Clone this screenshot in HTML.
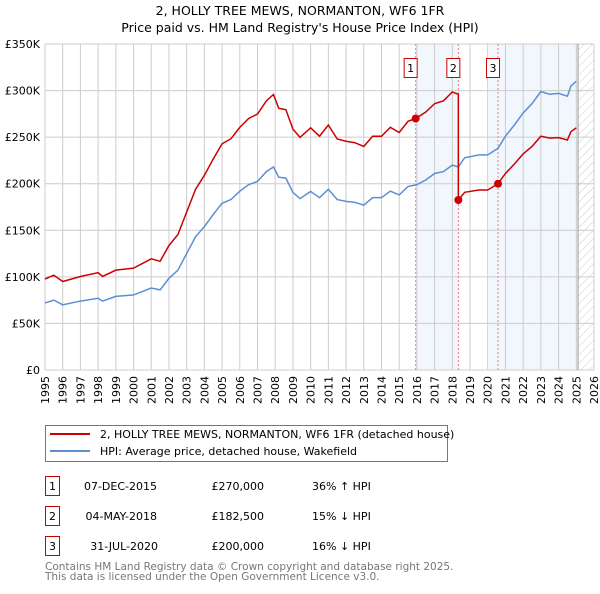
<!DOCTYPE html>
<html><head><meta charset="utf-8"><style>
body{margin:0;background:#fff;font-family:"DejaVu Sans","Liberation Sans",sans-serif;}
svg text{font-family:"DejaVu Sans","Liberation Sans",sans-serif;}
</style></head><body>
<svg id="chart" width="600" height="590" viewBox="0 0 600 590" xmlns="http://www.w3.org/2000/svg">
<defs><pattern id="hatch" width="6" height="6" patternUnits="userSpaceOnUse" patternTransform="rotate(45)"><line x1="0" y1="0" x2="0" y2="6" stroke="#ccc" stroke-width="1"/></pattern></defs>
<text x="300" y="15" font-size="12.5" text-anchor="middle">2, HOLLY TREE MEWS, NORMANTON, WF6 1FR</text>
<text x="300" y="32" font-size="12.5" text-anchor="middle">Price paid vs. HM Land Registry's House Price Index (HPI)</text>
<g id="bg"></g><g id="grid"></g><g id="series"></g><g id="marks"></g>
<rect x="45.5" y="425.5" width="402" height="36" fill="#fff" stroke="#777"/>
<line x1="50" y1="434" x2="90" y2="434" stroke="#cc0000" stroke-width="2"/>
<text x="100" y="438" font-size="11">2, HOLLY TREE MEWS, NORMANTON, WF6 1FR (detached house)</text>
<line x1="50" y1="451" x2="90" y2="451" stroke="#5b8fd4" stroke-width="2"/>
<text x="100" y="455" font-size="11">HPI: Average price, detached house, Wakefield</text>
<g font-size="11">
<rect x="45.5" y="476.5" width="14" height="19" fill="#fff" stroke="#cc0000"/><text x="52.5" y="490" text-anchor="middle">1</text>
<text x="157" y="490" text-anchor="end">07-DEC-2015</text><text x="264" y="490" text-anchor="end">£270,000</text><text x="312" y="490">36% ↑ HPI</text>
<rect x="45.5" y="506.5" width="14" height="19" fill="#fff" stroke="#cc0000"/><text x="52.5" y="520" text-anchor="middle">2</text>
<text x="157" y="520" text-anchor="end">04-MAY-2018</text><text x="264" y="520" text-anchor="end">£182,500</text><text x="312" y="520">15% ↓ HPI</text>
<rect x="45.5" y="536.5" width="14" height="19" fill="#fff" stroke="#cc0000"/><text x="52.5" y="550" text-anchor="middle">3</text>
<text x="158" y="550" text-anchor="end">31-JUL-2020</text><text x="264" y="550" text-anchor="end">£200,000</text><text x="312" y="550">16% ↓ HPI</text>
</g>
<text x="45" y="570" font-size="10.5" fill="#777">Contains HM Land Registry data © Crown copyright and database right 2025.</text>
<text x="45" y="580" font-size="10.5" fill="#777">This data is licensed under the Open Government Licence v3.0.</text>
</svg>
<script>
const yTicks=[0,50,100,150,200,250,300,350];
const yTickLabels=["£0","£50K","£100K","£150K","£200K","£250K","£300K","£350K"];
const xYears=[1995,1996,1997,1998,1999,2000,2001,2002,2003,2004,2005,2006,2007,2008,2009,2010,2011,2012,2013,2014,2015,2016,2017,2018,2019,2020,2021,2022,2023,2024,2025,2026];
const hpiDates=[1995,1995.5,1996,1997,1998,1998.25,1999,2000,2001,2001.5,2002,2002.5,2003,2003.5,2004,2004.5,2005,2005.5,2006,2006.5,2007,2007.5,2007.9,2008.2,2008.6,2009,2009.4,2010,2010.5,2011,2011.5,2012,2012.5,2013,2013.5,2014,2014.5,2015,2015.5,2016,2016.5,2017,2017.5,2018,2018.34,2018.7,2019,2019.5,2020,2020.58,2021,2021.5,2022,2022.5,2023,2023.5,2024,2024.5,2024.7,2025];
const hpiValues=[72,75,70,74,77,74,79,80.6,88,86,98.5,107,125,143,154,167,179,183,192,199,202.5,213,218,207,206,190.6,184,191.7,185,194,183,181,180,177,185,185,192,188,197,199,204,211,213,220,218,228,229,231,231,238,251,263,276,286,299,296,297,294,305,310];
const priceDates=[1995,1995.5,1996,1997,1998,1998.25,1999,2000,2001,2001.5,2002,2002.5,2003,2003.5,2004,2004.5,2005,2005.5,2006,2006.5,2007,2007.5,2007.9,2008.2,2008.6,2009,2009.4,2010,2010.5,2011,2011.5,2012,2012.5,2013,2013.5,2014,2014.5,2015,2015.5,2015.93,2016.5,2017,2017.5,2018,2018.34,2018.34,2018.7,2019,2019.5,2020,2020.58,2021,2021.5,2022,2022.5,2023,2023.5,2024,2024.5,2024.7,2025];
const priceValues=[97.7,101.8,95,100.4,104.5,100.4,107.2,109.4,119.4,116.7,133.7,145.2,169.6,194,209,226.6,242.9,248.3,260.5,270,274.8,289,295.8,280.9,279.5,258.6,249.7,260,251,263,248,245.6,244,240,251,251,260.5,255,267,270,277,286,289,298.5,296,182.5,190.8,191.7,193.3,193.3,200,211,221,232,240,251,249,249.5,247,256,260];
const saleDates=[2015.93,2018.34,2020.58];
const saleValues=[270,182.5,200];
const saleLabels=["1","2","3"];
const NS="http://www.w3.org/2000/svg";
const X0=45,X1=594,Y0=370,Y1=44;
function xs(t){return X0+(t-1995)/(2026-1995)*(X1-X0);}
function ys(v){return Y0-v/350*(Y0-Y1);}
function mk(tag,attrs,parent){const e=document.createElementNS(NS,tag);for(const k in attrs)e.setAttribute(k,attrs[k]);document.getElementById(parent).appendChild(e);return e;}
let e;
e=mk('rect',{x:xs(saleDates[0]),y:Y1,width:xs(2018.45)-xs(saleDates[0]),height:Y0-Y1,fill:'#f2f6fd'},'bg');


e=mk('rect',{x:xs(2020.1),y:Y1,width:xs(2025.1)-xs(2020.1),height:Y0-Y1,fill:'#f2f6fd'},'bg');


e=mk('rect',{x:xs(2025.1),y:Y1,width:X1-xs(2025.1),height:Y0-Y1,fill:'url(#hatch)'},'bg');


xYears.forEach(yr=>{
 mk('line',{x1:xs(yr),x2:xs(yr),y1:Y1,y2:Y0,stroke:'#ccc'},'grid');
 e=mk('text',{x:0,y:0,'font-size':11,'text-anchor':'end',transform:`translate(${xs(yr)+4},${Y0+6}) rotate(-90)`},'grid');
 e.textContent=yr;
 
 
});
yTicks.forEach((v,i)=>{
 mk('line',{x1:X0,x2:X1,y1:ys(v),y2:ys(v),stroke:'#ccc'},'grid');
 e=mk('text',{x:40,y:ys(v)+4,'font-size':11,'text-anchor':'end'},'grid');
 e.textContent=yTickLabels[i];
 
 
});
e=mk('line',{x1:xs(2025.1),x2:xs(2025.1),y1:Y1,y2:Y0,stroke:'#999'},'grid');
saleDates.forEach((d,i)=>{
 mk('line',{x1:xs(d),x2:xs(d),y1:Y1,y2:Y0,stroke:'#f08080','stroke-dasharray':'2,2'},'grid');
});
e=mk('polyline',{points:hpiDates.map((d,i)=>xs(d)+','+ys(hpiValues[i])).join(' '),fill:'none',stroke:'#5b8fd4','stroke-width':1.5},'series');


e=mk('polyline',{points:priceDates.map((d,i)=>xs(d)+','+ys(priceValues[i])).join(' '),fill:'none',stroke:'#cc0000','stroke-width':1.5},'series');


saleDates.forEach((d,i)=>{
 e=mk('circle',{cx:xs(d),cy:ys(saleValues[i]),r:4,fill:'#cc0000'},'marks');
 
 
 e=mk('rect',{x:xs(d)-11.5,y:58.5,width:13,height:19,fill:'#fff',stroke:'#cc0000'},'marks');
 
 
 e=mk('text',{x:xs(d)-5,y:72,'font-size':11,'text-anchor':'middle'},'marks');
 e.textContent=saleLabels[i];
 
 
});
</script>
</body></html>
